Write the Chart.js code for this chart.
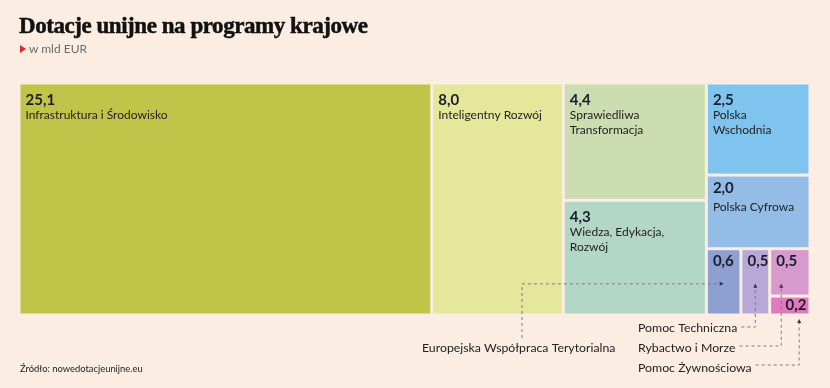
<!DOCTYPE html>
<html>
<head>
<meta charset="utf-8">
<script src="https://cdn.jsdelivr.net/npm/chart.js@4/dist/chart.umd.min.js"></script>
<style>
  html, body { margin:0; padding:0; background:#FBEDE2; }
  #wrap { position:relative; width:830px; height:388px; overflow:hidden; background:#FBEDE2; }
  #c { position:absolute; left:0; top:0; }
  #title { position:absolute; left:19px; top:13px; margin:0; font-family:"Liberation Serif", serif; font-weight:bold; font-size:23px; color:#111; letter-spacing:-0.45px; white-space:nowrap; -webkit-text-stroke:0.5px #111; }
  #sub { position:absolute; left:20px; top:41px; font-family:Lato, sans-serif; font-size:12px; color:#6a6a6a; white-space:nowrap; }
  #sub .tri { display:inline-block; width:0; height:0; border-top:4px solid transparent; border-bottom:4px solid transparent; border-left:6px solid #E3252B; margin-right:3px; vertical-align:0px; }
  #src { position:absolute; left:20px; top:363px; font-family:Lato, sans-serif; font-size:9.4px; color:#222; white-space:nowrap; }
</style>
</head>
<body>
<div id="wrap">
  <canvas id="c" width="830" height="388"></canvas>
  <div id="title">Dotacje unijne na programy krajowe</div>
  <div id="sub"><span class="tri"></span>w mld EUR</div>
  <div id="src">Źródło: nowedotacjeunijne.eu</div>
</div>
<script>
// ---- DATA ----
const categories = [
  "Infrastruktura i Środowisko",
  "Inteligentny Rozwój",
  "Sprawiedliwa Transformacja",
  "Wiedza, Edykacja, Rozwój",
  "Polska Wschodnia",
  "Polska Cyfrowa",
  "Europejska Współpraca Terytorialna",
  "Pomoc Techniczna",
  "Rybactwo i Morze",
  "Pomoc Żywnościowa"
];
const values = [25.1, 8.0, 4.4, 4.3, 2.5, 2.0, 0.6, 0.5, 0.5, 0.2];
const valueLabels = ["25,1", "8,0", "4,4", "4,3", "2,5", "2,0", "0,6", "0,5", "0,5", "0,2"];
// nesting of the treemap: 'h' = side by side, 'v' = stacked (indices into categories)
const nesting = ['h', 0, 1, ['v', 2, 3], ['v', 4, 5, ['h', 6, 7, ['v', 8, 9]]]];
// categories named by a callout under the chart instead of inside the cell
const calloutItems = [6, 7, 8, 9];

// ---- STYLE ----
const colors = ["#C0C54A", "#E5E79B", "#CCDDB1", "#B3D7C7", "#7EC4EF", "#93BCE6", "#8E9FD2", "#B8A8D8", "#D69ACD", "#E07ABF"];

function sumOf(node) {
  if (typeof node === 'number') return values[node];
  return node.slice(1).reduce((a, k) => a + sumOf(k), 0);
}
function layout(node, x0, x1, y0, y1, out) {
  if (typeof node === 'number') { out[node] = { x0, x1, y0, y1 }; return out; }
  const dir = node[0], kids = node.slice(1);
  const sums = kids.map(sumOf), tot = sums.reduce((a, b) => a + b, 0);
  let acc = 0;
  kids.forEach((k, i) => {
    const a = acc / tot, b = (acc + sums[i]) / tot; acc += sums[i];
    if (dir === 'h') layout(k, x0 + (x1 - x0) * a, x0 + (x1 - x0) * b, y0, y1, out);
    else layout(k, x0, x1, y0 + (y1 - y0) * a, y0 + (y1 - y0) * b, out);
  });
  return out;
}
const total = sumOf(nesting);
const cells = layout(nesting, 0, total, 0, 1, []);

function wrap(ctx, text, maxW) {
  const words = text.split(' '); const lines = []; let cur = '';
  words.forEach(w => {
    const t = cur ? cur + ' ' + w : w;
    if (ctx.measureText(t).width > maxW && cur) { lines.push(cur); cur = w; } else cur = t;
  });
  if (cur) lines.push(cur);
  return lines;
}

const treemapPlugin = {
  id: 'treemapCells',
  afterDatasetsDraw(chart) {
    const { ctx, scales: { x, y }, chartArea } = chart;
    const gap = 1.5;
    const px = cells.map(c => ({
      l: x.getPixelForValue(c.x0) + gap, r: x.getPixelForValue(c.x1) - gap,
      t: y.getPixelForValue(c.y0) + gap, b: y.getPixelForValue(c.y1) - gap
    }));
    ctx.save();
    px.forEach((p, i) => {
      ctx.fillStyle = colors[i];
      ctx.fillRect(p.l, p.t, p.r - p.l, p.b - p.t);
    });
    // texts
    px.forEach((p, i) => {
      const h = p.b - p.t, w = p.r - p.l;
      const small = h < 80;
      ctx.fillStyle = '#1c1d2b';
      ctx.font = 'bold 15px Lato';
      if (w < 45 && h < 25) {
        ctx.textAlign = 'right'; ctx.textBaseline = 'alphabetic';
        ctx.fillText(valueLabels[i], p.r - 2, p.b - 3.5);
      } else {
        ctx.textAlign = 'left'; ctx.textBaseline = 'alphabetic';
        ctx.fillText(valueLabels[i], p.l + 5, p.t + (small ? 16 : 20));
      }
      if (!calloutItems.includes(i)) {
        ctx.font = '12px Lato';
        ctx.fillStyle = '#222';
        const lines = wrap(ctx, categories[i], w - 12);
        lines.forEach((ln, k) => ctx.fillText(ln, p.l + 5, p.t + 34 + k * 15.5));
      }
    });
    // callouts
    const bottom = chartArea.bottom;
    const c6 = px[6], c7 = px[7], c8 = px[8], c9 = px[9];
    const midY = (c6.t + c6.b) / 2 + 2;
    ctx.font = '12.3px Lato';
    ctx.fillStyle = '#222';
    ctx.textAlign = 'left';
    const labX = 638;
    const bl = [bottom + 17, bottom + 37, bottom + 57];
    const items = [[7, bl[0]], [8, bl[1]], [9, bl[2]]];
    const euX = 422, euB = bottom + 37;
    ctx.fillText(categories[6], euX, euB);
    items.forEach(([i, b]) => ctx.fillText(categories[i], labX, b));

    ctx.strokeStyle = '#7d7d7d'; ctx.lineWidth = 1; ctx.setLineDash([3, 3]);
    const tipX6 = (c6.l + c6.r) / 2;
    const vx = euX + 100;
    ctx.beginPath();
    ctx.moveTo(vx, euB - 14); ctx.lineTo(vx, midY); ctx.lineTo(tipX6 - 4, midY);
    const x7 = (c7.l + c7.r) / 2;
    const w7 = ctx.measureText(categories[7]).width;
    ctx.moveTo(labX + w7 + 4, bl[0] - 5); ctx.lineTo(x7, bl[0] - 5); ctx.lineTo(x7, midY + 4);
    const x8 = c8.l + (c8.r - c8.l) * 0.27;
    const w8 = ctx.measureText(categories[8]).width;
    ctx.moveTo(labX + w8 + 4, bl[1] - 6); ctx.lineTo(x8, bl[1] - 6); ctx.lineTo(x8, midY + 4);
    const x9 = c9.l + (c9.r - c9.l) * 0.75;
    const w9 = ctx.measureText(categories[9]).width;
    ctx.moveTo(labX + w9 + 4, bl[2] - 7); ctx.lineTo(x9, bl[2] - 7); ctx.lineTo(x9, bottom + 8);
    ctx.stroke();
    ctx.setLineDash([]);
    ctx.fillStyle = '#333';
    function arrow(tx, ty, dir) {
      ctx.beginPath();
      if (dir === 'right') { ctx.moveTo(tx, ty); ctx.lineTo(tx - 4, ty - 2); ctx.lineTo(tx - 4, ty + 2); }
      else { ctx.moveTo(tx, ty); ctx.lineTo(tx - 2, ty + 4); ctx.lineTo(tx + 2, ty + 4); }
      ctx.closePath(); ctx.fill();
    }
    arrow(tipX6, midY, 'right');
    arrow(x7, midY, 'up');
    arrow(x8, midY, 'up');
    arrow(x9, bottom + 4, 'up');
    ctx.restore();
  }
};

new Chart(document.getElementById('c'), {
  type: 'scatter',
  data: {
    datasets: [{
      data: cells.map(c => ({ x: (c.x0 + c.x1) / 2, y: (c.y0 + c.y1) / 2 })),
      pointRadius: 0, pointHoverRadius: 0
    }]
  },
  options: {
    responsive: false, animation: false, events: [],
    layout: { padding: { left: 19, right: 20, top: 83, bottom: 73 } },
    plugins: { legend: { display: false }, tooltip: { enabled: false }, title: { display: false } },
    scales: {
      x: { type: 'linear', min: 0, max: total, display: false },
      y: { type: 'linear', min: 0, max: 1, reverse: true, display: false }
    }
  },
  plugins: [treemapPlugin]
});
</script>
</body>
</html>
